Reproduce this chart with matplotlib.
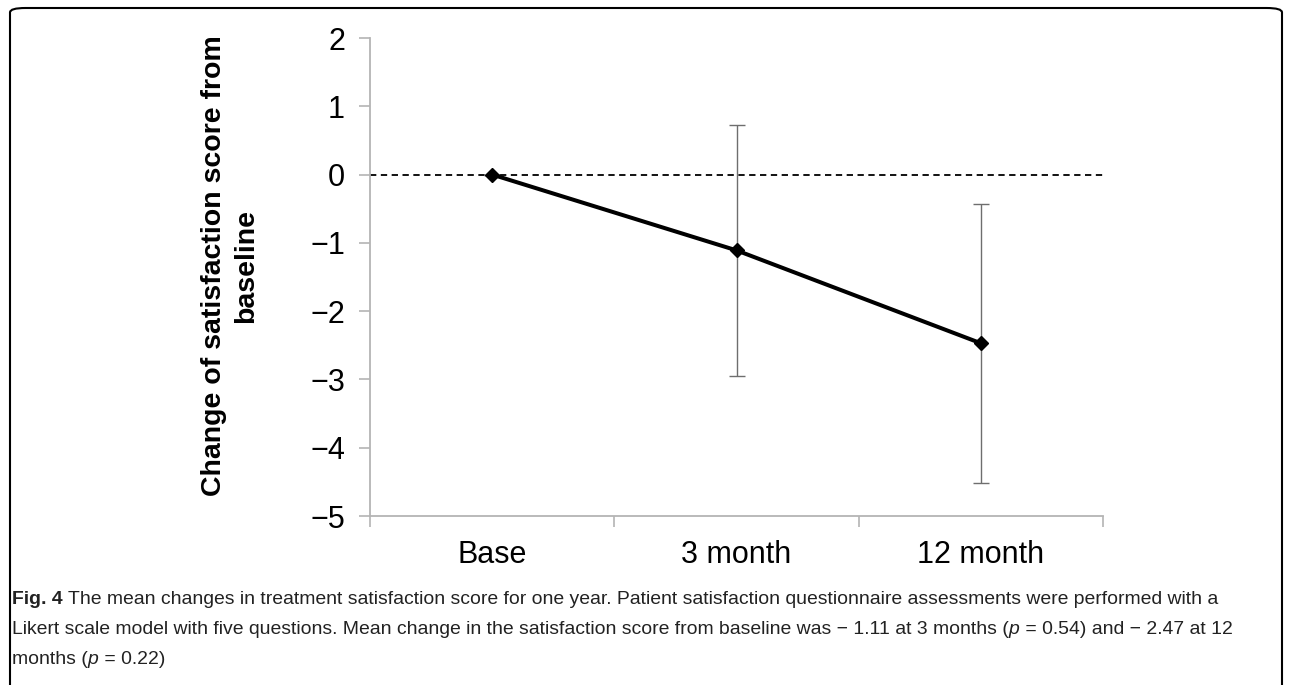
import matplotlib
matplotlib.use("Agg")
import matplotlib.pyplot as plt
from matplotlib.patches import FancyBboxPatch
import numpy as np

# datos
categorias = ["Base", "3 month", "12 month"]
medias = [0.0, -1.11, -2.47]
errores = [0.0, 1.84, 2.04]
yticks = [2, 1, 0, -1, -2, -3, -4, -5]

ylabel = "Change of satisfaction score from\nbaseline"
caption = [
    [("Fig. 4", "bold", "normal"),
     (" The mean changes in treatment satisfaction score for one year. Patient satisfaction questionnaire assessments were performed with a", "normal", "normal")],
    [("Likert scale model with five questions. Mean change in the satisfaction score from baseline was \u2212 1.11 at 3 months (", "normal", "normal"),
     ("p", "normal", "italic"),
     (" = 0.54) and \u2212 2.47 at 12", "normal", "normal")],
    [("months (", "normal", "normal"), ("p", "normal", "italic"), (" = 0.22)", "normal", "normal")],
]

plt.rcParams['font.family'] = ['Liberation Sans', 'DejaVu Sans']

fig = plt.figure(figsize=(12.92, 6.85), dpi=100)
ax = fig.add_axes([370/1292, 1 - 516/685, (1103 - 370)/1292, (516 - 38)/685])

x = np.arange(len(categorias))
gris = "#b4b4b4"

ax.plot([-0.5, 2.5], [0, 0], linestyle=(0, (3.5, 2.5)), color="black", lw=1.3, zorder=1)
ax.errorbar(x, medias, yerr=errores, fmt="none", ecolor="#6e6e6e", elinewidth=1.0,
            capsize=6, capthick=1.0, zorder=2)
ax.plot(x, medias, color="black", lw=2.9, marker="D", markersize=7, zorder=3)

ax.set_xlim(-0.5, 2.5)
ax.set_ylim(-5, 2)
ax.set_yticks(yticks)
ax.set_yticklabels([str(v).replace("-", "\u2212") for v in yticks], fontsize=22)
ax.set_xticks([-0.5, 0.5, 1.5, 2.5])
ax.set_xticklabels([])
ax.set_xticks(x, minor=True)
ax.set_xticklabels(categorias, minor=True, fontsize=22)
ax.tick_params(axis="x", which="minor", length=0, pad=17)
ax.tick_params(axis="x", which="major", length=8, color=gris, width=1.2)
ax.tick_params(axis="y", length=8, color=gris, width=1.2, pad=10)

for lado in ["top", "right"]:
    ax.spines[lado].set_visible(False)
for lado in ["left", "bottom"]:
    ax.spines[lado].set_color(gris)
    ax.spines[lado].set_linewidth(1.3)

fig.text(230/1292, 1 - 266/685, ylabel, rotation=90, ha="center", va="center",
         multialignment="center", fontsize=20.5, fontweight="bold", linespacing=1.3)

# borde redondeado
borde = FancyBboxPatch((10/1292, -0.2), 1272/1292, 1.2 - 8/685,
                       boxstyle="round,pad=0,rounding_size=0.012",
                       transform=fig.transFigure, fill=False, edgecolor="black",
                       lw=1.5, mutation_aspect=685/1292)
fig.patches.append(borde)

# leyenda de la figura
renderer = fig.canvas.get_renderer()
y_lineas = [599, 630, 660]


def dibujar_leyenda(tamanio):
    textos = []
    anchos = []
    for linea, yl in zip(caption, y_lineas):
        xp = 12
        for texto, peso, estilo in linea:
            t = fig.text(xp/1292, 1 - yl/685, texto, ha="left", va="center",
                         fontsize=tamanio, fontweight=peso, fontstyle=estilo,
                         color="#222222")
            xp += t.get_window_extent(renderer).width
            textos.append(t)
        anchos.append(xp - 12)
    return textos, anchos


textos, anchos = dibujar_leyenda(14)
for t in textos:
    t.remove()
dibujar_leyenda(14 * 1214 / anchos[0])

fig.savefig("out.png", dpi=100)
